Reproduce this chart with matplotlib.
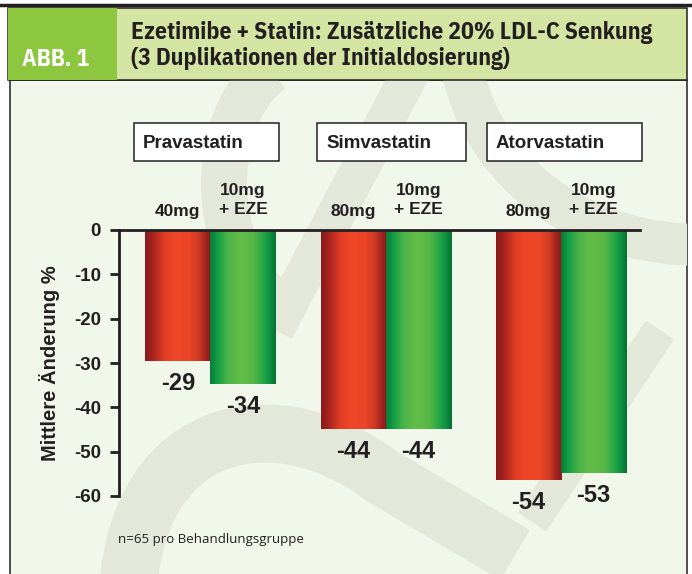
import numpy as np
import matplotlib
matplotlib.use('Agg')
import matplotlib.pyplot as plt
from matplotlib import font_manager
from matplotlib.colors import LinearSegmentedColormap
from matplotlib.patches import Rectangle, PathPatch
from matplotlib.path import Path

plt.rcParams['font.family'] = ['Liberation Sans', 'DejaVu Sans']

W, H = 692, 574
DARK = '#231f20'

# data
statins = ['Pravastatin', 'Simvastatin', 'Atorvastatin']
statin_doses = ['40mg', '80mg', '80mg']
eze_dose = '10mg\n+ EZE'
# bar lengths as drawn, and the numbers printed under the bars
statin_change = [-29.5, -44.8, -56.3]
eze_change = [-34.7, -44.8, -54.7]
statin_labels = ['-29', '-44', '-54']
eze_labels = ['-34', '-44', '-53']
y_ticks = [0, -10, -20, -30, -40, -50, -60]
title_lines = ['Ezetimibe + Statin: Zusätzliche 20% LDL-C Senkung',
               '(3 Duplikationen der Initialdosierung)']
fig_tag = 'ABB. 1'
y_label = 'Mittlere Änderung %'
footnote = 'n=65 pro Behandlungsgruppe'

# layout of the header boxes (pixels)
box_left = [134, 317, 487]
box_width = [145, 149, 155]

red_cmap = LinearSegmentedColormap.from_list('red', [
    (0, '#861b1b'), (0.12, '#a82320'), (0.3, '#e23e26'), (0.45, '#f04628'),
    (0.68, '#ec4427'), (0.82, '#cc3924'), (0.93, '#9c211f'), (1, '#881c1c')])
green_cmap = LinearSegmentedColormap.from_list('green', [
    (0, '#0a7a38'), (0.1, '#0f9c45'), (0.25, '#45b249'), (0.42, '#62bc48'),
    (0.65, '#5cb846'), (0.8, '#28a847'), (0.91, '#0b9142'), (1, '#0a6f35')])

# condensed face for the header, if there is one
installed = {f.name for f in font_manager.fontManager.ttflist}
if 'IBM Plex Sans Condensed' in installed:
    head_family, head_size = 'IBM Plex Sans Condensed', 17
else:
    head_family, head_size = 'Liberation Sans', 14


def gradient_bars(ax, rects, cmap):
    grad = np.linspace(0, 1, 256).reshape(1, -1)
    for r in rects:
        x0 = r.get_x()
        x1 = x0 + r.get_width()
        y0 = r.get_y()
        y1 = y0 + r.get_height()
        im = ax.imshow(grad, cmap=cmap, aspect='auto', zorder=2,
                       extent=(x0, x1, min(y0, y1), max(y0, y1)))
        im.set_clip_path(r)


def stroke(bg, pts, codes, width_px, clip):
    p = PathPatch(Path(pts, codes), fill=False, ec='#e3e8da',
                  lw=width_px * 0.72, capstyle='butt', zorder=1)
    bg.add_patch(p)
    p.set_clip_path(clip)


fig = plt.figure(figsize=(W / 100, H / 100), dpi=100)

# background in pixel coordinates
bg = fig.add_axes([0, 0, 1, 1], zorder=0)
bg.set_xlim(0, W)
bg.set_ylim(H, 0)
bg.axis('off')

frame = Rectangle((10, 80), 677, 510, fc='#f1f7ea', ec=DARK, lw=1.1, zorder=0.5)
bg.add_patch(frame)

# watermark logo
C4, L = Path.CURVE4, Path.LINETO
stroke(bg, [(272, 70), (212, 110), (200, 255), (285, 310)], [Path.MOVETO, C4, C4, C4], 46, frame)
stroke(bg, [(412, 70), (275, 330)], [Path.MOVETO, L], 38, frame)
stroke(bg, [(462, 70), (490, 190), (600, 245), (700, 245)], [Path.MOVETO, C4, C4, C4], 42, frame)
stroke(bg, [(128, 590), (140, 420), (280, 400), (380, 475), (515, 555)],
       [Path.MOVETO, C4, C4, C4, L], 58, frame)
stroke(bg, [(660, 330), (532, 522)], [Path.MOVETO, L], 34, frame)

# header
bg.add_patch(Rectangle((8, 8), 679, 72, fc='#d4e5a3', ec=DARK, lw=1.1, zorder=2))
bg.add_patch(Rectangle((8, 8), 109, 72, fc='#8dc63f', ec='none', zorder=2))
bg.plot([0, W], [5, 5], color=DARK, lw=2.5, zorder=3)
head_font = dict(family=[head_family, 'DejaVu Sans'], fontweight='bold', fontsize=head_size)
bg.text(56, 59, fig_tag, color='white', ha='center', va='center', zorder=3, **head_font)
bg.text(131, 33, title_lines[0], color=DARK, ha='left', va='center', zorder=3, **head_font)
bg.text(131, 59, title_lines[1], color=DARK, ha='left', va='center', zorder=3, **head_font)

# statin name boxes
for name, left, width in zip(statins, box_left, box_width):
    bg.add_patch(Rectangle((left, 123), width, 38, fc='white', ec=DARK, lw=1.1, zorder=2))
    bg.text(left + 9, 143, name, fontsize=13.5, fontweight='bold', color=DARK,
            ha='left', va='center', zorder=3)

bg.text(50, 363, y_label, rotation=90, fontsize=14.5, fontweight='bold', color=DARK,
        ha='center', va='center')
bg.text(118, 540, footnote, family=['Open Sans', 'DejaVu Sans'], fontsize=9.5,
        color=DARK, ha='left', va='center')

# main chart
ax = fig.add_axes([119 / W, 1 - 496 / H, 521 / W, 266 / H], zorder=1)
ax.set_facecolor('none')
x = np.arange(len(statins))
w = 0.371
red_bars = ax.bar(x - w / 2, statin_change, w, color='none', edgecolor='none')
green_bars = ax.bar(x + w / 2, eze_change, w, color='none', edgecolor='none')
gradient_bars(ax, red_bars, red_cmap)
gradient_bars(ax, green_bars, green_cmap)

for xi, dose in zip(x - w / 2, statin_doses):
    ax.annotate(dose, (xi, 0), xytext=(0, 13.3), textcoords='offset points',
                ha='center', va='center', fontsize=12.5, fontweight='bold', color=DARK)
for xi in x + w / 2:
    ax.annotate(eze_dose, (xi, 0), xytext=(0, 21.8), textcoords='offset points',
                ha='center', va='center', fontsize=12.5, fontweight='bold', color=DARK,
                linespacing=1.35)

for xi, v, lbl in zip(x - w / 2, statin_change, statin_labels):
    ax.annotate(lbl, (xi, v), xytext=(0, -16.5), textcoords='offset points',
                ha='center', va='center', fontsize=17, fontweight='bold', color=DARK)
for xi, v, lbl in zip(x + w / 2, eze_change, eze_labels):
    ax.annotate(lbl, (xi, v), xytext=(0, -16.5), textcoords='offset points',
                ha='center', va='center', fontsize=17, fontweight='bold', color=DARK)

ax.set_xlim(-0.522, 2.451)
ax.set_ylim(-60, 0)
ax.set_yticks(y_ticks)
ax.set_yticklabels([str(t) for t in y_ticks], fontsize=13.5, fontweight='bold', color=DARK)
ax.set_xticks([])
ax.tick_params(axis='y', direction='out', length=6.5, width=2, color=DARK, pad=6.5)
ax.spines['right'].set_visible(False)
ax.spines['bottom'].set_visible(False)
ax.spines['left'].set_linewidth(2)
ax.spines['top'].set_linewidth(2)
ax.spines['left'].set_color(DARK)
ax.spines['top'].set_color(DARK)
ax.spines['top'].set_zorder(4)

plt.savefig('out.png', dpi=100)
